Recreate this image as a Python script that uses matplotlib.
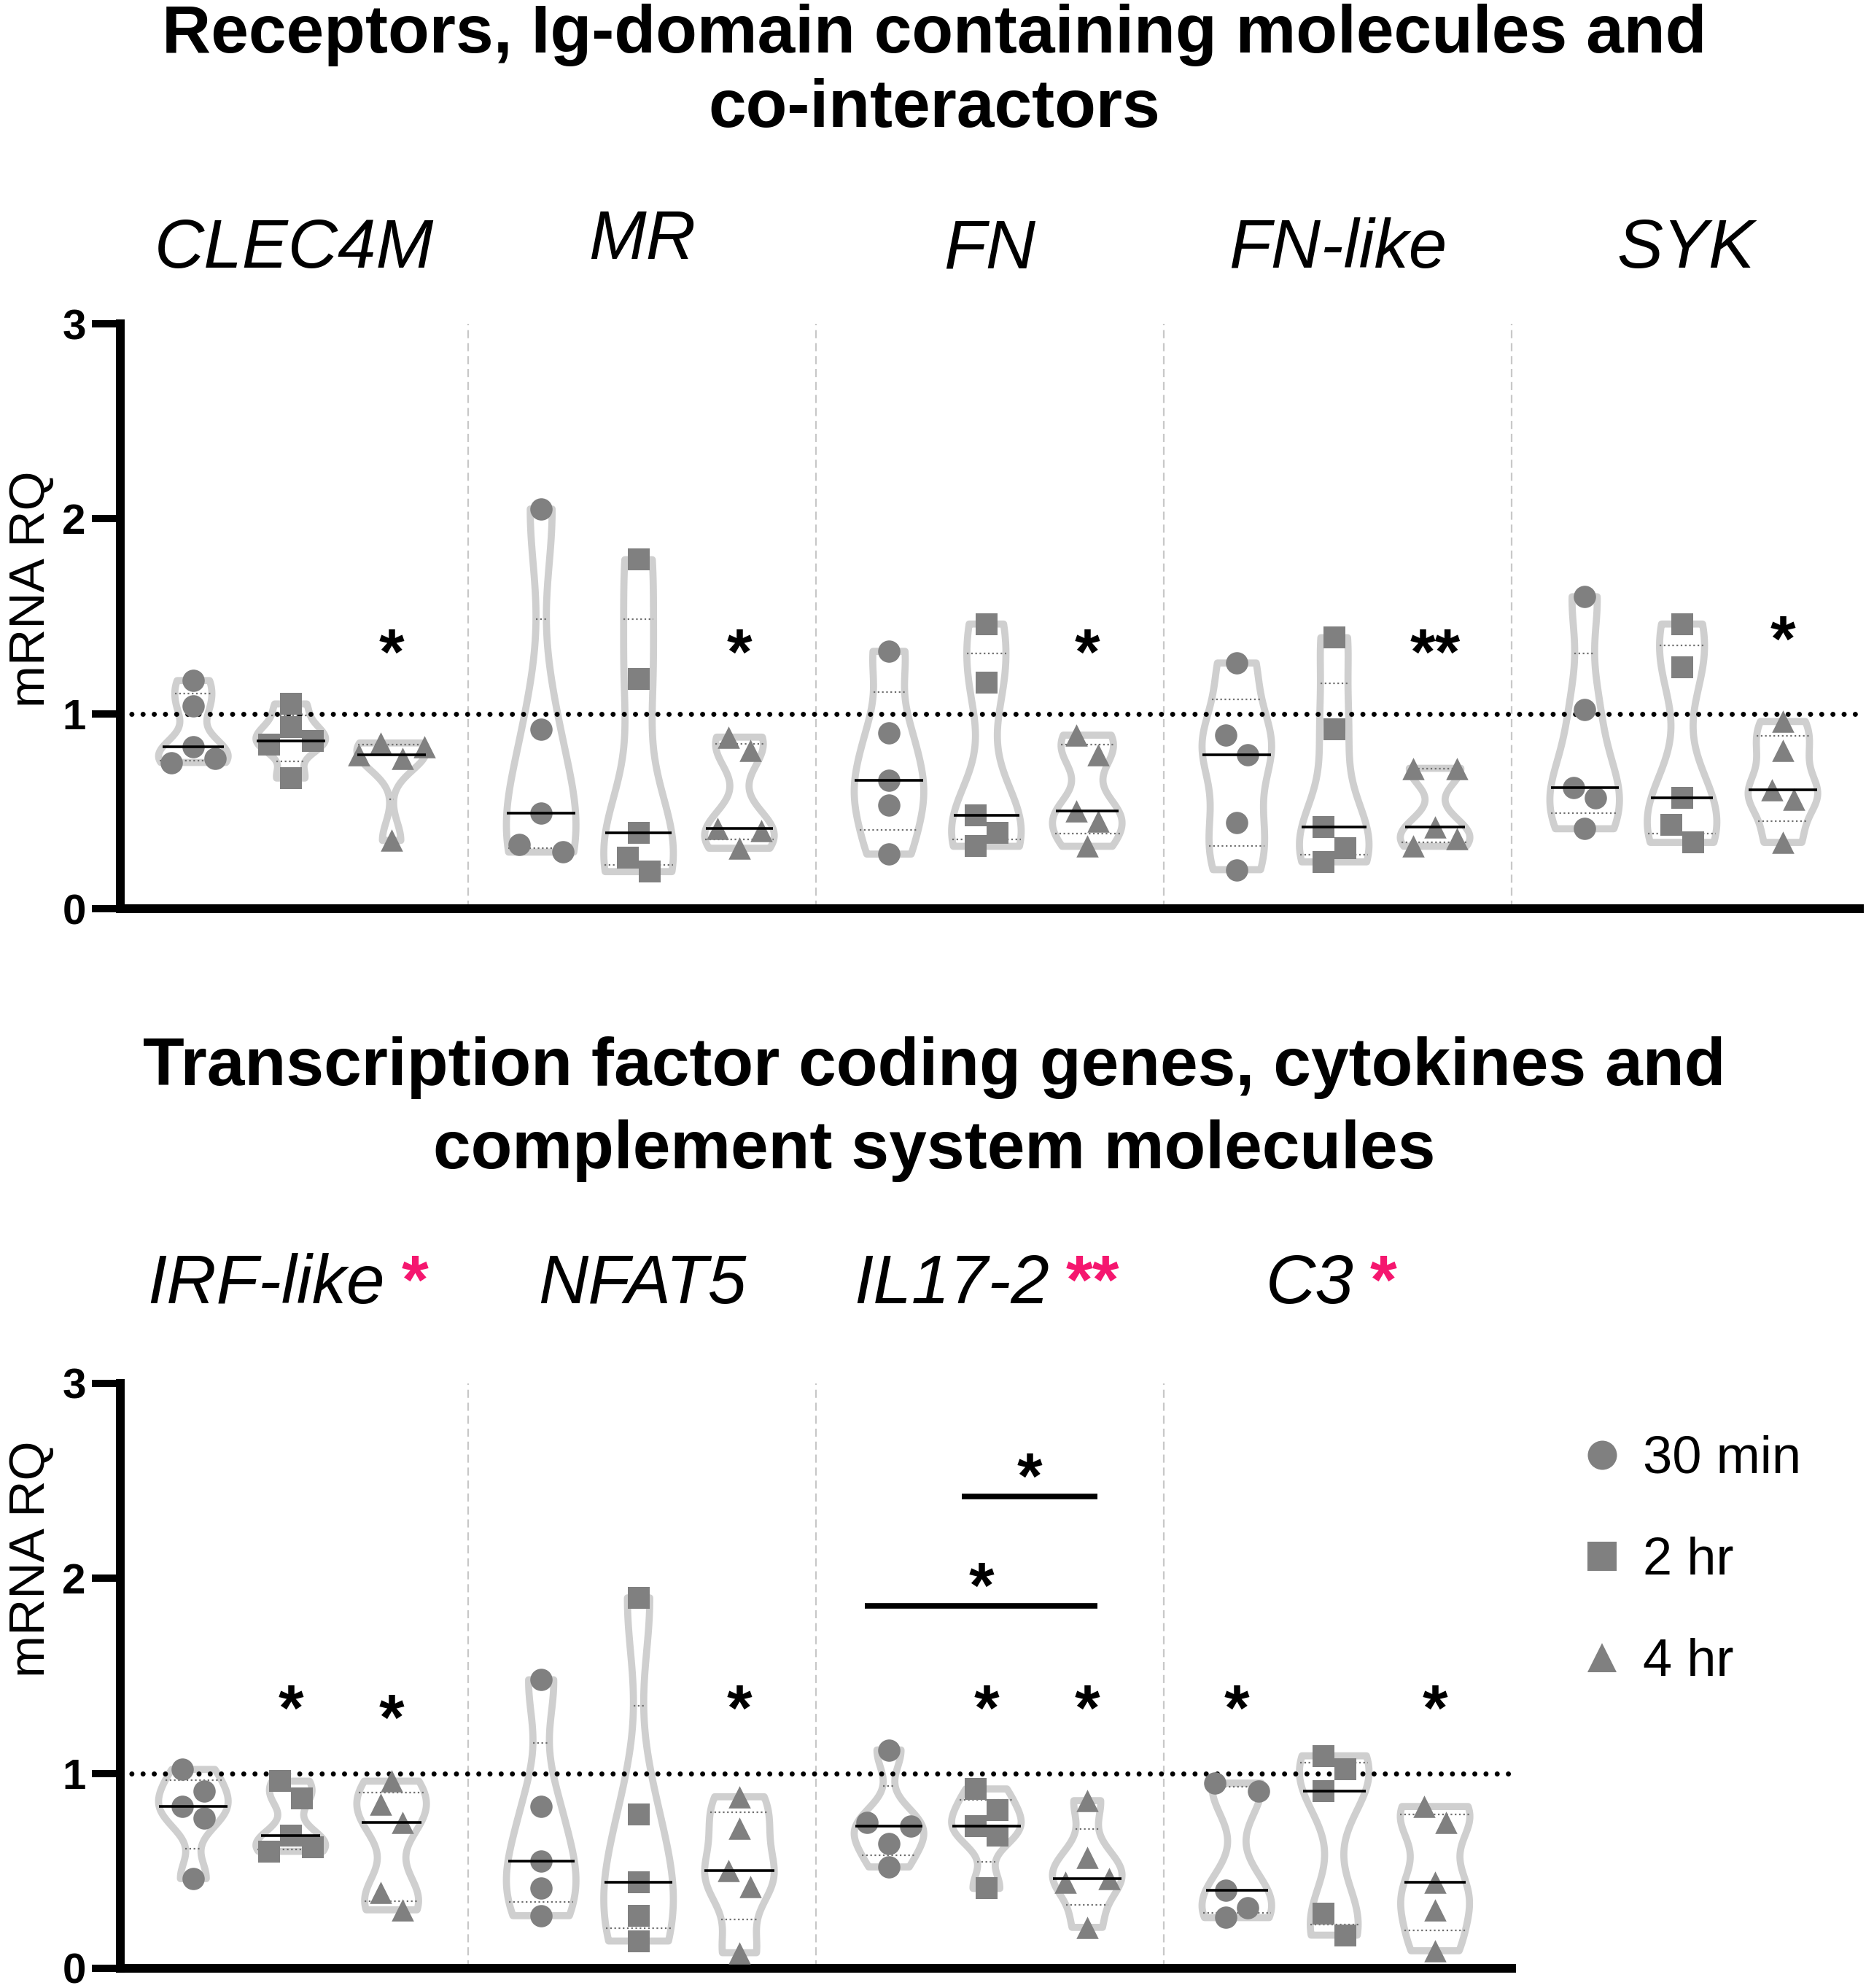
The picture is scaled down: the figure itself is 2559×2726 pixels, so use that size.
"""
violin plots of mRNA RQ for receptor genes (top) and transcription factor /
cytokine / complement genes (bottom), three time points per gene
"""

import numpy as np
import matplotlib
matplotlib.use("Agg")
import matplotlib.pyplot as plt
from matplotlib.lines import Line2D

plt.rcParams['font.family'] = ['Liberation Sans', 'DejaVu Sans']

series_names = ["30 min", "2 hr", "4 hr"]
series_markers = ["o", "s", "^"]

# top panel
top_title = ["Receptors, Ig-domain containing molecules and", "co-interactors"]
top_genes = ["CLEC4M", "MR", "FN", "FN-like", "SYK"]
top_30min = [[1.17, 1.04, 0.83, 0.75, 0.77],
             [2.05, 0.92, 0.49, 0.29, 0.33],
             [1.32, 0.90, 0.66, 0.53, 0.28],
             [1.26, 0.89, 0.79, 0.44, 0.20],
             [1.60, 1.02, 0.62, 0.57, 0.41]]
top_2hr = [[0.93, 1.05, 0.84, 0.86, 0.67],
           [1.79, 1.18, 0.39, 0.19, 0.26],
           [1.46, 1.16, 0.48, 0.32, 0.39],
           [1.39, 0.92, 0.42, 0.24, 0.31],
           [1.46, 1.24, 0.57, 0.34, 0.43]]
top_4hr = [[0.85, 0.79, 0.77, 0.83, 0.35],
           [0.88, 0.81, 0.41, 0.40, 0.31],
           [0.89, 0.79, 0.50, 0.45, 0.32],
           [0.72, 0.72, 0.42, 0.32, 0.36],
           [0.96, 0.81, 0.61, 0.56, 0.34]]
# significance stars: gene index, series index, text, y
top_star_gene = [0, 1, 2, 3, 4]
top_star_series = [2, 2, 2, 2, 2]
top_star_text = ["*", "*", "*", "**", "*"]
top_star_y = [1.37, 1.37, 1.37, 1.37, 1.44]

# bottom panel
bot_title = ["Transcription factor coding genes, cytokines and", "complement system molecules"]
bot_genes = ["IRF-like", "NFAT5", "IL17-2", "C3"]
bot_gene_marks = ["*", "", "**", "*"]
bot_30min = [[1.02, 0.91, 0.83, 0.77, 0.46],
             [1.48, 0.83, 0.55, 0.41, 0.27],
             [1.12, 0.75, 0.73, 0.64, 0.52],
             [0.91, 0.95, 0.40, 0.26, 0.31]]
bot_2hr = [[0.96, 0.87, 0.68, 0.60, 0.62],
           [1.90, 0.79, 0.44, 0.27, 0.14],
           [0.92, 0.81, 0.73, 0.68, 0.41],
           [1.09, 1.02, 0.91, 0.28, 0.17]]
bot_4hr = [[0.96, 0.84, 0.75, 0.39, 0.30],
           [0.88, 0.72, 0.50, 0.42, 0.08],
           [0.86, 0.57, 0.46, 0.44, 0.21],
           [0.83, 0.75, 0.44, 0.30, 0.09]]
bot_star_gene = [0, 0, 1, 2, 2, 3, 3]
bot_star_series = [1, 2, 2, 1, 2, 0, 2]
bot_star_text = ["*"] * 7
bot_star_y = [1.39, 1.34, 1.39, 1.39, 1.39, 1.39, 1.39]
# comparison bars: gene, from series, to series, bar y, star y
bar_gene = [2, 2]
bar_from = [1, 0]
bar_to = [2, 2]
bar_y = [2.42, 1.86]
bar_star_y = [2.58, 2.02]

W, H = 2559, 2726
DPI = 100

MARKER_CLR = "#808080"
VIOLIN_CLR = "#cfcfcf"
PINK = "#f5176f"
offsets = [0.21, 0.49, 0.78]
STAR_FS = 64


def swarm_offsets(vals, px_x, px_y, diam=32, step=30):
    # greedy beeswarm in pixel space, each overlapping cluster recentred
    placed = []
    idx = []
    for i in np.argsort(vals)[::-1]:
        y = vals[i] * px_y
        for k in [0, 1, -1, 2, -2, 3, -3]:
            x = float(k * step)
            if all((x - a) ** 2 + (y - b) ** 2 >= diam ** 2 for a, b in placed):
                break
        placed.append((x, y))
        idx.append(i)
    xs = np.array([p[0] for p in placed], dtype=float)
    ys = np.array([p[1] for p in placed], dtype=float)
    # clusters: consecutive (by value) points closer than diam vertically
    out = np.zeros(len(vals))
    start = 0
    for j in range(1, len(ys) + 1):
        if j == len(ys) or ys[j - 1] - ys[j] >= diam:
            seg = slice(start, j)
            shift = (xs[seg].max() + xs[seg].min()) / 2
            xs[seg] -= shift
            start = j
    for i, x in zip(idx, xs):
        out[i] = x / px_x
    return out


def star(ax, x, y, text):
    ax.annotate(text, xy=(x, y), xytext=(0, -0.50 * STAR_FS), textcoords='offset points',
                ha='center', va='baseline', fontsize=STAR_FS, fontweight='bold',
                annotation_clip=False)


def draw_panel(ax, groups, n_groups, ax_w_px, ax_h_px):
    ax.set_xlim(0, n_groups)
    ax.set_ylim(0, 3)
    for g in range(1, n_groups):
        ax.axvline(g, color="#c8c8c8", lw=1.6, ls=(0, (5, 3)), zorder=0.5)
    ax.axhline(1, color="k", lw=5, ls=(0, (0.01, 2.2)), dash_capstyle='round', zorder=3)

    px_x = ax_w_px / n_groups
    px_y = ax_h_px / 3.0
    for si in range(3):
        data = [np.array(groups[si][g]) for g in range(n_groups)]
        pos = [g + offsets[si] for g in range(n_groups)]
        parts = ax.violinplot(data, positions=pos, widths=0.2, showextrema=False,
                              bw_method=0.45)
        for body, vals, p in zip(parts['bodies'], data, pos):
            body.set_alpha(1)
            body.set_facecolor('none')
            body.set_edgecolor(VIOLIN_CLR)
            body.set_linewidth(7)
            body.set_joinstyle('round')
            body.set_zorder(1)
            verts = body.get_paths()[0].vertices
            right = verts[verts[:, 0] > p + 1e-9]
            order = np.argsort(right[:, 1])
            ry, rx = right[order, 1], right[order, 0]

            q1, med, q3 = np.percentile(vals, [25, 50, 75], method='weibull')
            hw = np.interp(med, ry, rx) - p
            ax.hlines(med, p - hw, p + hw, color='k', lw=2.6, zorder=5)
            for q in (q1, q3):
                hq = np.interp(q, ry, rx) - p
                ax.hlines(q, p - hq, p + hq, color='#6e6e6e', lw=1.6,
                          linestyles=(0, (1, 1.6)), zorder=2)

            dx = swarm_offsets(vals, px_x, px_y)
            ax.scatter(p + dx, vals, marker=series_markers[si], s=22 ** 2,
                       color=MARKER_CLR, linewidths=0, zorder=4, clip_on=False)

    for side in ['top', 'right']:
        ax.spines[side].set_visible(False)
    for side in ['left', 'bottom']:
        ax.spines[side].set_linewidth(8.6)
    ax.set_xticks([])
    ax.set_yticks([0, 1, 2, 3])
    ax.tick_params(axis='y', length=28, width=7.2, pad=6, labelsize=42)
    for lbl in ax.get_yticklabels():
        lbl.set_fontweight('bold')


fig = plt.figure(figsize=(W / DPI, H / DPI), dpi=DPI)

# top panel
top_l, top_r, top_t, top_b = 165, 2550, 444, 1246
ax1 = fig.add_axes([top_l / W, 1 - top_b / H, (top_r - top_l) / W, (top_b - top_t) / H])
draw_panel(ax1, [top_30min, top_2hr, top_4hr], len(top_genes), top_r - top_l, top_b - top_t)
for g, s, t, y in zip(top_star_gene, top_star_series, top_star_text, top_star_y):
    star(ax1, g + offsets[s], y, t)

gw = (top_r - top_l) / len(top_genes)
for g, name in enumerate(top_genes):
    lift = 12 if name == "MR" else 0
    fig.text((top_l + (g + 0.5) * gw) / W, 1 - (367 - lift) / H,
             name, ha='center', va='baseline', fontsize=68, fontstyle='italic')

fig.text(0.5006, 1 - 72 / H, top_title[0], ha='center', va='baseline', fontsize=67, fontweight='bold')
fig.text(0.5006, 1 - 174 / H, top_title[1], ha='center', va='baseline', fontsize=67, fontweight='bold')
fig.text(43 / W, 1 - 808 / H, "mRNA RQ", rotation=90, ha='center', va='center', fontsize=50)

# bottom panel
bot_l, bot_t, bot_b = 165, 1897, 2699
bot_r = bot_l + gw * len(bot_genes)
ax2 = fig.add_axes([bot_l / W, 1 - bot_b / H, (bot_r - bot_l) / W, (bot_b - bot_t) / H])
draw_panel(ax2, [bot_30min, bot_2hr, bot_4hr], len(bot_genes), bot_r - bot_l, bot_b - bot_t)
for g, s, t, y in zip(bot_star_gene, bot_star_series, bot_star_text, bot_star_y):
    star(ax2, g + offsets[s], y, t)
for g, a, b, y, sy in zip(bar_gene, bar_from, bar_to, bar_y, bar_star_y):
    x0 = g + offsets[a] - 0.07
    x1 = g + offsets[b] + 0.03
    ax2.hlines(y, x0, x1, color='k', lw=5.5, zorder=5)
    star(ax2, (x0 + x1) / 2, sy, "*")

for g, (name, mark) in enumerate(zip(bot_genes, bot_gene_marks)):
    shift = 24 + 14 * len(mark) if mark else 0
    t = fig.text((bot_l + (g + 0.5) * gw - shift) / W, 1 - 1787 / H,
                 name, ha='center', va='baseline', fontsize=68, fontstyle='italic')
    if mark:
        fig.add_artist(plt.Annotation(
            mark, xy=(1, 1 - 1787 / H), xycoords=(t, 'figure fraction'),
            xytext=(16, 0), textcoords='offset points', ha='left', va='baseline',
            fontsize=68, fontweight='bold', color=PINK, annotation_clip=False))

fig.text(0.5006, 1 - 1488 / H, bot_title[0], ha='center', va='baseline', fontsize=67, fontweight='bold')
fig.text(0.5006, 1 - 1602 / H, bot_title[1], ha='center', va='baseline', fontsize=67, fontweight='bold')
fig.text(43 / W, 1 - 2138 / H, "mRNA RQ", rotation=90, ha='center', va='center', fontsize=50)

handles = [Line2D([], [], marker=m, ls='none', color=MARKER_CLR, markersize=28.8,
                  markeredgewidth=0) for m in series_markers]
fig.legend(handles, series_names, loc='upper left', bbox_to_anchor=(2166 / W, 1 - 1968 / H),
           fontsize=52, handlelength=0.85, handletextpad=0.36, labelspacing=1.0,
           borderpad=0, borderaxespad=0, frameon=False)

fig.savefig("out.png", dpi=DPI)
